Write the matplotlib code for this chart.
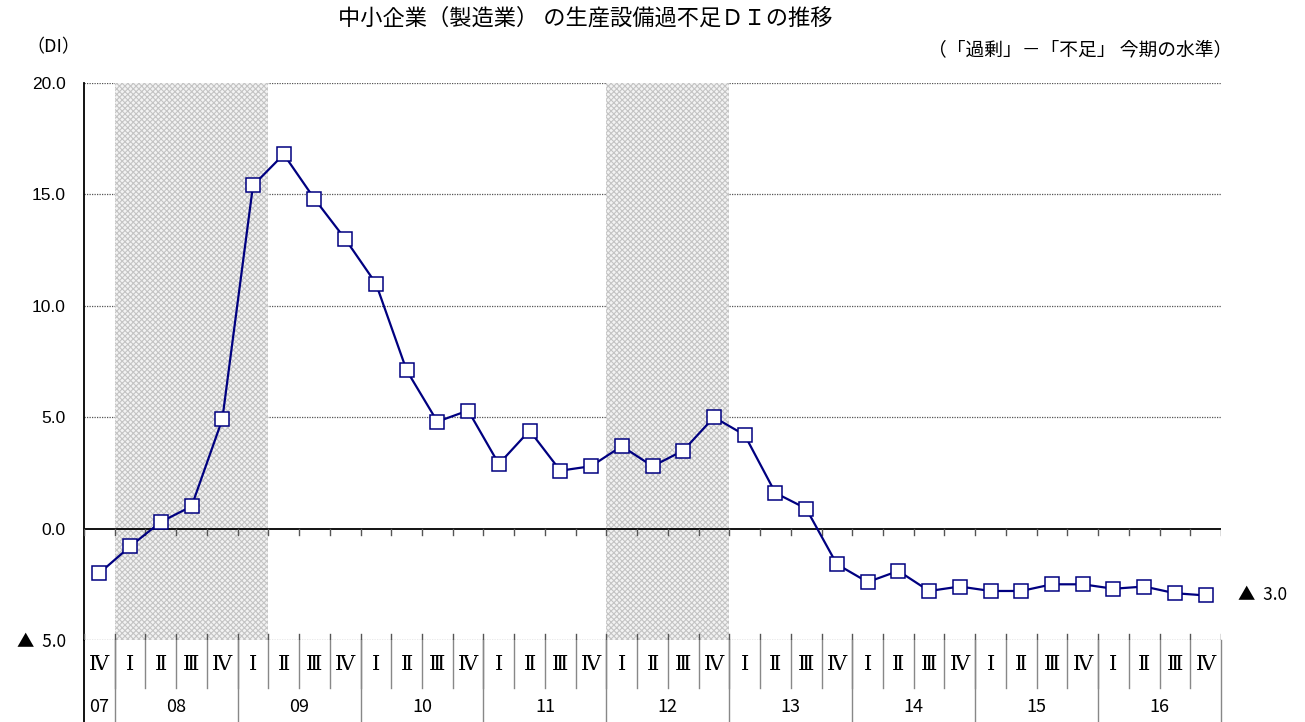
import matplotlib.pyplot as plt
import matplotlib.transforms as mtransforms

plt.rcParams['font.family'] = ['Noto Sans CJK JP', 'DejaVu Sans']
plt.rcParams['hatch.linewidth'] = 0.8

# 2007 IV .. 2016 IV
quarters = ['Ⅳ'] + ['Ⅰ', 'Ⅱ', 'Ⅲ', 'Ⅳ'] * 9
years = ['07', '08', '09', '10', '11', '12', '13', '14', '15', '16']
year_slots = [1, 4, 4, 4, 4, 4, 4, 4, 4, 4]
di = [-2.0, -0.8, 0.3, 1.0, 4.9,
      15.4, 16.8, 14.8, 13.0,
      11.0, 7.1, 4.8, 5.3,
      2.9, 4.4, 2.6, 2.8,
      3.7, 2.8, 3.5, 5.0,
      4.2, 1.6, 0.9, -1.6,
      -2.4, -1.9, -2.8, -2.6,
      -2.8, -2.8, -2.5, -2.5,
      -2.7, -2.6, -2.9, -3.0]
# shaded periods (slot start, slot count)
shade = [(1, 5), (17, 4)]
yticks = [-5, 0, 5, 10, 15, 20]
numfont = ['Liberation Sans', 'Noto Sans CJK JP']
negfont = ['Noto Sans CJK JP', 'Liberation Sans']


def fmt(v):
    return '▲  %.1f' % abs(v) if v < 0 else '%.1f' % v


fig = plt.figure(figsize=(13.05, 7.22), dpi=100)
ax = fig.add_axes([84 / 1305, 1 - 640 / 722, 1137 / 1305, 557 / 722])

n = len(di)
x = list(range(n))
ax.set_xlim(-0.5, n - 0.5)
ax.set_ylim(-5, 20)

for v in [-5, 5, 10, 15, 20]:
    ax.axhline(v, color='#555555', lw=0.9, ls=(0, (1, 1)), zorder=1)

for s, c in shade:
    ax.axvspan(s - 0.5, s + c - 0.5, facecolor='#f3f3f3', edgecolor='#c4c4c4',
               hatch='xxxxxx', lw=0, zorder=2)

ax.axhline(0, color='black', lw=1.3, zorder=3)
# ticks on zero line and on bottom line
for i in range(n + 1):
    ax.plot([i - 0.5, i - 0.5], [0, -0.3], color='#555555', lw=1, zorder=3)
    ax.plot([i - 0.5, i - 0.5], [-5, -4.72], color='#555555', lw=1, zorder=3)

ax.plot(x, di, color='#000080', lw=1.6, marker='s', markersize=9.5,
        markerfacecolor='white', markeredgecolor='#000080', markeredgewidth=1.1,
        zorder=5)

ax.text(n - 0.5 + 0.55, di[-1], fmt(di[-1]), fontsize=12.5, va='center', ha='left',
        family=negfont if di[-1] < 0 else numfont)

for sp in ['top', 'right', 'bottom']:
    ax.spines[sp].set_visible(False)
ax.spines['left'].set_linewidth(1.3)
ax.set_xticks([])
ax.set_yticks(yticks)
labels = ax.set_yticklabels([fmt(v) for v in yticks])
for v, lab in zip(yticks, labels):
    lab.set_family(negfont if v < 0 else numfont)
ax.tick_params(axis='y', length=0, labelsize=12.5, pad=13)

# table below the axis
tr = mtransforms.blended_transform_factory(ax.transData, ax.transAxes)
r1 = -48 / 557
r2 = -82 / 557
for i, q in enumerate(quarters):
    ax.text(i, r1 / 2, q, transform=tr, ha='center', va='center', fontsize=15,
            family=['DejaVu Serif', 'Noto Sans CJK JP'], clip_on=False)
for i in range(1, n):
    ax.plot([i - 0.5, i - 0.5], [0, r1], transform=tr, color='#888888', lw=1,
            clip_on=False)
ax.plot([-0.5, -0.5], [0, r2], transform=tr, color='black', lw=1.3, clip_on=False)
pos = 0
for y, c in zip(years, year_slots):
    ax.text(pos + (c - 1) / 2, (r1 + r2) / 2 - 0.003, y, transform=tr, ha='center',
            va='center', fontsize=13, clip_on=False)
    pos += c
    ax.plot([pos - 0.5, pos - 0.5], [0, r2 - 0.01], transform=tr, color='#888888',
            lw=1, clip_on=False)

fig.text(585 / 1305, 1 - 18 / 722, '中小企業（製造業） の生産設備過不足ＤＩの推移',
         ha='center', va='center', fontsize=16)
fig.text(26 / 1305, 1 - 47 / 722, '（DI）', ha='left', va='center', fontsize=13)
fig.text(1232 / 1305, 1 - 50 / 722, '（「過剰」－「不足」 今期の水準）', ha='right',
         va='center', fontsize=13.5)

fig.savefig('out.png', dpi=100)
